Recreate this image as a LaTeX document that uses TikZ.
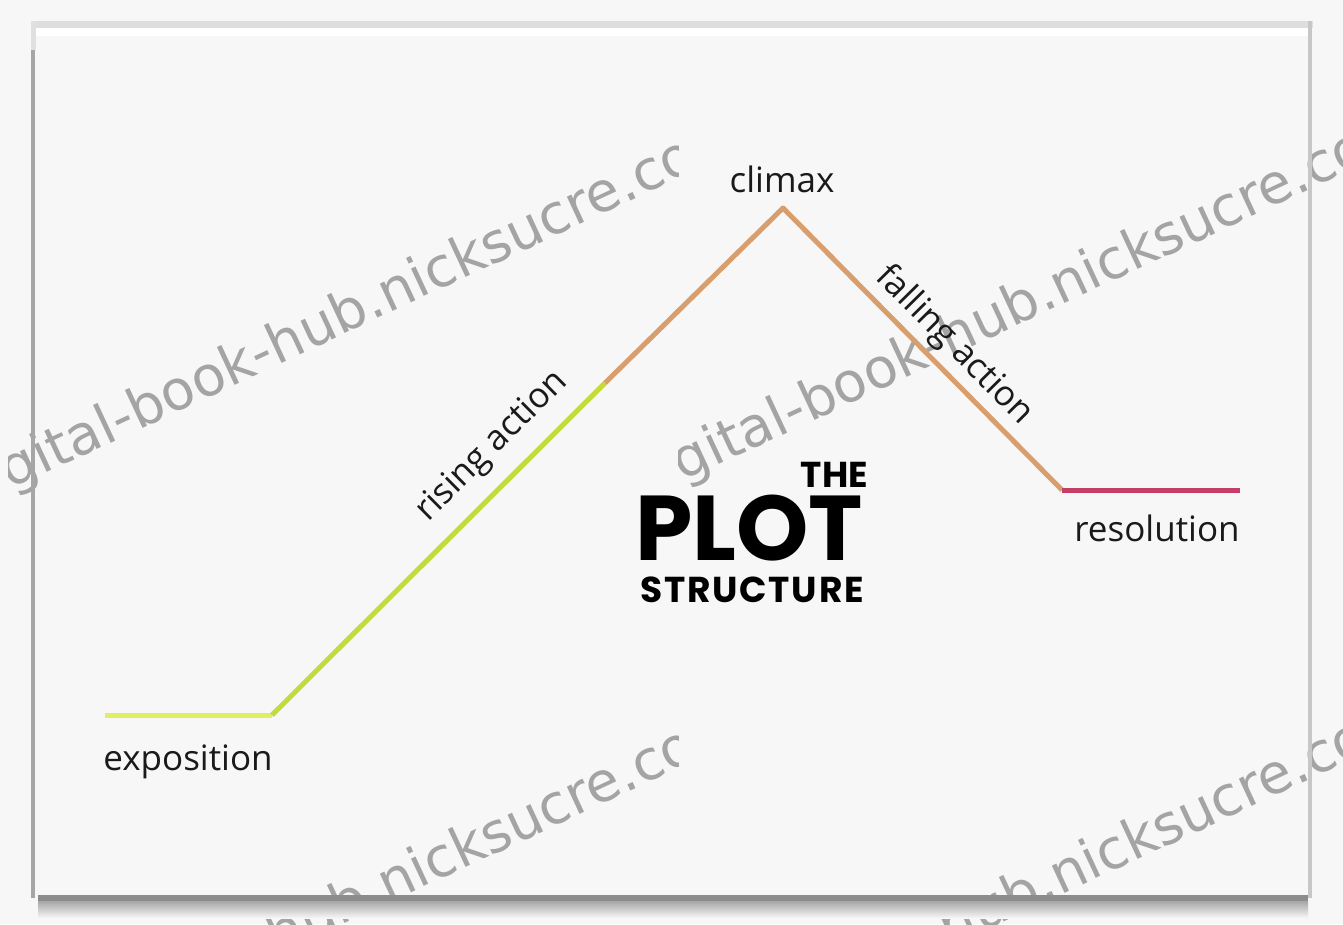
\documentclass[tikz,border=0pt]{standalone}
\usepackage{fontspec}
\setmainfont{Open Sans}
\newfontfamily\titlefont{Poppins}
\newfontfamily\wmfont{DejaVu Sans}
\definecolor{bgc}{HTML}{F7F7F7}
\definecolor{expoc}{HTML}{E2EE62}
\definecolor{risec}{HTML}{C3DC3C}
\definecolor{orangec}{HTML}{D99E6E}
\definecolor{resolc}{HTML}{C43E68}
\definecolor{wmc}{HTML}{A4A4A4}
\definecolor{txtc}{HTML}{1A1A1A}
\tikzset{
  lbl/.style={text=txtc, font=\fontsize{35}{40}\selectfont, inner sep=0pt},
  plotline/.style={line width=5pt, line join=round},
  wm/.style={text=wmc, font=\wmfont\fontsize{55}{60}\selectfont, inner sep=0pt, anchor=base west, rotate=25},
  ttl/.style={text=black, inner sep=0pt}
}
\begin{document}
\begin{tikzpicture}[x=1pt,y=-1pt]
\useasboundingbox (0,0) rectangle (1343,924);
\fill[bgc] (0,0) rectangle (1343,924);
% watermarks
\begin{scope}
\clip (8,0) rectangle (678,924);
\node[wm] (wm1) at (-35,511) {digital-book-hub.nicksucre.com};
\node[wm] (wm3) at (-35,1101) {digital-book-hub.nicksucre.com};
\end{scope}
\begin{scope}
\clip (678,0) rectangle (1343,924);
\node[wm] (wm2) at (637,503) {digital-book-hub.nicksucre.com};
\node[wm] (wm4) at (637,1093) {digital-book-hub.nicksucre.com};
\end{scope}
% frame
\fill[black!13] (32,21) rectangle (1313,28);
\fill[white] (36,28) rectangle (1308,36);
\fill[black!12] (31,21) rectangle (36,50);
\fill[black!35] (31,50) rectangle (35,898);
\fill[black!22] (1308,21) rectangle (1312,898);
\shade[top color=black!35, bottom color=bgc] (38,901) rectangle (1308,918);
\fill[black!45] (38,895) rectangle (1308,901);
% plot line
\coordinate (e0) at (105,715);
\coordinate (e1) at (272,715);
\coordinate (r1) at (605,383);
\coordinate (pk) at (783,208);
\coordinate (f1) at (1062,490);
\coordinate (s1) at (1240,490);
\draw[plotline, expoc] (e0) -- (e1);
\draw[plotline, risec] (e1) -- (r1);
\draw[plotline, orangec] (r1) -- (pk) -- (f1);
\draw[plotline, resolc] (f1) -- (s1);
% labels
\node[lbl, anchor=base] (climax) at (782,192) {climax};
\node[lbl, anchor=base] (expo) at (188,770) {exposition};
\node[lbl, anchor=base] (resol) at (1157,541) {resolution};
\path (e1) -- (pk) node[lbl, sloped, above, pos=0.48, inner sep=18pt] (rising) {rising action};
\path (pk) -- (f1) node[lbl, sloped, above, pos=0.55, inner sep=7pt] (falling) {falling action};
% title
\node[ttl, anchor=base east, font=\titlefont\bfseries\fontsize{36}{40}\selectfont] (the) at (868,487) {THE};
\node[ttl, anchor=base west, font=\titlefont\bfseries\fontsize{92}{96}\selectfont] (plot) at (635,560) {PLOT};
\node[ttl, anchor=base west, font=\titlefont\bfseries\fontsize{36}{40}\selectfont\addfontfeatures{LetterSpace=5}] (struct) at (640,602) {STRUCTURE};
\end{tikzpicture}
\end{document}
